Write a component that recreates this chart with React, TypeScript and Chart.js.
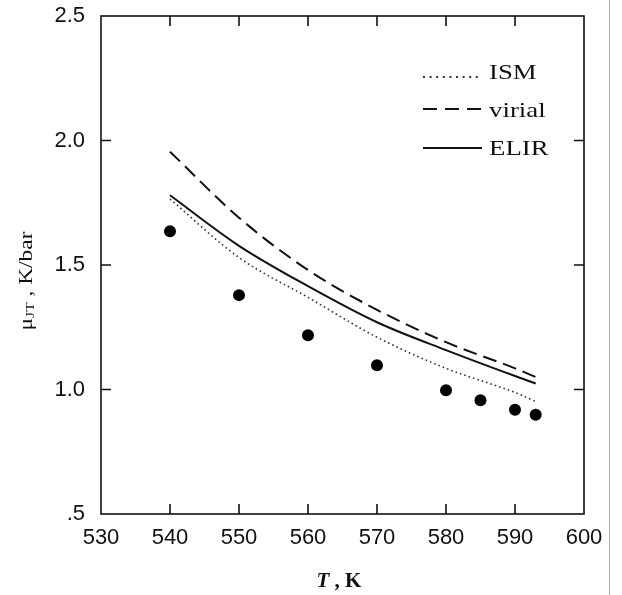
import React, { useEffect, useRef } from "react";
import { Chart, registerables } from "chart.js";

Chart.register(...registerables);

// ---- data ----
const curveTemps = [540, 550, 560, 570, 580, 590, 593];
const ismValues = [1.765, 1.53, 1.37, 1.21, 1.085, 0.988, 0.952];
const virialValues = [1.955, 1.69, 1.48, 1.32, 1.19, 1.085, 1.05];
const elirValues = [1.78, 1.577, 1.415, 1.27, 1.158, 1.054, 1.024];
const expTemps = [540, 550, 560, 570, 580, 585, 590, 593];
const expValues = [1.636, 1.379, 1.218, 1.097, 0.997, 0.957, 0.919, 0.899];
const xTickValues = [530, 540, 550, 560, 570, 580, 590, 600];
const yTickValues = [0.5, 1.0, 1.5, 2.0, 2.5];
const seriesLabels = ["ISM", "virial", "ELIR"];
const xTitleItalic = "T";
const xTitleRest = " , K";
const yTitleMain = "μ";
const yTitleSub = "JT";
const yTitleRest = " , K/bar";

const toPoints = (xs: number[], ys: number[]) => xs.map((x, i) => ({ x, y: ys[i] }));

const SERIF = '"Liberation Serif", "DejaVu Serif", serif';
const SANS = '"Liberation Sans", Arial, sans-serif';

const framePlugin = {
  id: "frameTicks",
  afterDraw(chart: any) {
    const { ctx, chartArea } = chart;
    const { left, right, top, bottom } = chartArea;
    const xs = chart.scales.x;
    const ys = chart.scales.y;
    ctx.save();
    ctx.strokeStyle = "#111";
    ctx.lineWidth = 1.6;
    ctx.strokeRect(left, top, right - left, bottom - top);
    const tl = 10;
    ctx.beginPath();
    xTickValues.forEach((v) => {
      if (v === xs.min || v === xs.max) return;
      const px = xs.getPixelForValue(v);
      ctx.moveTo(px, bottom);
      ctx.lineTo(px, bottom - tl);
      ctx.moveTo(px, top);
      ctx.lineTo(px, top + tl);
    });
    yTickValues.forEach((v) => {
      if (v === ys.min || v === ys.max) return;
      const py = ys.getPixelForValue(v);
      ctx.moveTo(left, py);
      ctx.lineTo(left + tl, py);
      ctx.moveTo(right, py);
      ctx.lineTo(right - tl, py);
    });
    ctx.stroke();

    // legend
    const lx0 = 423;
    const lx1 = 482;
    chart.data.datasets.forEach((ds: any, i: number) => {
      if (!ds.inLegend) return;
      const y = 72 + 38 * i;
      ctx.save();
      ctx.strokeStyle = ds.borderColor;
      ctx.lineWidth = ds.legendWidth;
      ctx.setLineDash(ds.legendDash);
      ctx.beginPath();
      const ly = y + ds.legendOffset;
      ctx.moveTo(lx0, ly);
      ctx.lineTo(lx1, ly);
      ctx.stroke();
      ctx.restore();
      ctx.save();
      ctx.fillStyle = "#111";
      ctx.font = `22px ${SERIF}`;
      ctx.textBaseline = "middle";
      ctx.textAlign = "left";
      ctx.translate(489, y + 1);
      ctx.scale(1.22, 1);
      ctx.fillText(ds.label, 0, 0);
      ctx.restore();
    });

    // x title
    ctx.textBaseline = "middle";
    ctx.textAlign = "left";
    ctx.fillStyle = "#111";
    ctx.font = `italic bold 21px ${SERIF}`;
    const w1 = ctx.measureText(xTitleItalic).width;
    ctx.font = `bold 21px ${SERIF}`;
    const w2 = ctx.measureText(xTitleRest).width;
    const sx = 339 - (w1 + w2) / 2;
    ctx.font = `italic bold 21px ${SERIF}`;
    ctx.fillText(xTitleItalic, sx, 582);
    ctx.font = `bold 21px ${SERIF}`;
    ctx.fillText(xTitleRest, sx + w1, 582);

    // y title (rotated, slightly stretched like the scan)
    ctx.save();
    ctx.translate(27, 281);
    ctx.rotate(-Math.PI / 2);
    ctx.scale(1.3, 1);
    ctx.font = `18px ${SERIF}`;
    const a = ctx.measureText(yTitleMain).width;
    ctx.font = `12px ${SERIF}`;
    const b = ctx.measureText(yTitleSub).width;
    ctx.font = `18px ${SERIF}`;
    const c = ctx.measureText(yTitleRest).width;
    const tx = -(a + b + c) / 2;
    ctx.font = `18px ${SERIF}`;
    ctx.fillText(yTitleMain, tx, 0);
    ctx.font = `12px ${SERIF}`;
    ctx.fillText(yTitleSub, tx + a, 4);
    ctx.font = `18px ${SERIF}`;
    ctx.fillText(yTitleRest, tx + a + b, 0);
    ctx.restore();
    ctx.restore();

    // red margin line of the scan
    ctx.save();
    ctx.strokeStyle = "rgba(235,120,120,0.8)";
    ctx.lineWidth = 1;
    ctx.beginPath();
    ctx.moveTo(609.5, 0);
    ctx.lineTo(609.5, chart.height);
    ctx.stroke();
    ctx.restore();
  },
};

export default function App() {
  const ref = useRef<HTMLCanvasElement | null>(null);
  useEffect(() => {
    if (!ref.current) return;
    const chart = new Chart(ref.current, {
      type: "scatter",
      data: {
        datasets: [
          {
            label: seriesLabels[0],
            data: toPoints(curveTemps, ismValues),
            showLine: true,
            borderColor: "#333",
            borderWidth: 1.6,
            borderDash: [1.6, 3],
            pointRadius: 0,
            cubicInterpolationMode: "monotone",
            inLegend: true,
            legendDash: [2, 4.6],
            legendWidth: 2,
            legendOffset: 5,
          } as any,
          {
            label: seriesLabels[1],
            data: toPoints(curveTemps, virialValues),
            showLine: true,
            borderColor: "#111",
            borderWidth: 2,
            borderDash: [14, 7],
            pointRadius: 0,
            cubicInterpolationMode: "monotone",
            inLegend: true,
            legendDash: [14, 8],
            legendWidth: 2,
            legendOffset: -1,
          } as any,
          {
            label: seriesLabels[2],
            data: toPoints(curveTemps, elirValues),
            showLine: true,
            borderColor: "#111",
            borderWidth: 2,
            pointRadius: 0,
            cubicInterpolationMode: "monotone",
            inLegend: true,
            legendDash: [],
            legendWidth: 2.2,
            legendOffset: 0,
          } as any,
          {
            label: "experiment",
            data: toPoints(expTemps, expValues),
            showLine: false,
            pointRadius: 6,
            pointBackgroundColor: "#000",
            pointBorderColor: "#000",
            pointBorderWidth: 0,
          } as any,
        ],
      },
      options: {
        animation: false,
        responsive: false,
        maintainAspectRatio: false,
        layout: { padding: { left: 0, top: 16, right: 38, bottom: 0 } },
        plugins: {
          legend: { display: false },
          tooltip: { enabled: false },
        },
        scales: {
          x: {
            type: "linear",
            min: 530,
            max: 600,
            afterBuildTicks: (s: any) => {
              s.ticks = xTickValues.map((v) => ({ value: v }));
            },
            afterFit: (s: any) => {
              s.height = 81;
              s.paddingLeft = 0;
              s.paddingRight = 0;
            },
            grid: { display: false, drawTicks: false },
            border: { display: false },
            ticks: {
              padding: 11,
              color: "#111",
              font: { family: SANS, size: 22 },
              maxRotation: 0,
              callback: (v: any) => String(v),
            },
          },
          y: {
            type: "linear",
            min: 0.5,
            max: 2.5,
            afterBuildTicks: (s: any) => {
              s.ticks = yTickValues.map((v) => ({ value: v }));
            },
            afterFit: (s: any) => {
              s.width = 101;
              s.paddingTop = 0;
              s.paddingBottom = 0;
            },
            grid: { display: false, drawTicks: false },
            border: { display: false },
            ticks: {
              padding: 16,
              color: "#111",
              font: { family: SANS, size: 22 },
              callback: (v: any) => (Number(v) === 0.5 ? ".5" : Number(v).toFixed(1)),
            },
          },
        },
      },
      plugins: [framePlugin],
    });
    return () => chart.destroy();
  }, []);
  return (
    <div style={{ position: "absolute", left: 0, top: 0, width: 622, height: 595, background: "#fff" }}>
      <canvas ref={ref} width={622} height={595} style={{ display: "block" }} />
    </div>
  );
}
